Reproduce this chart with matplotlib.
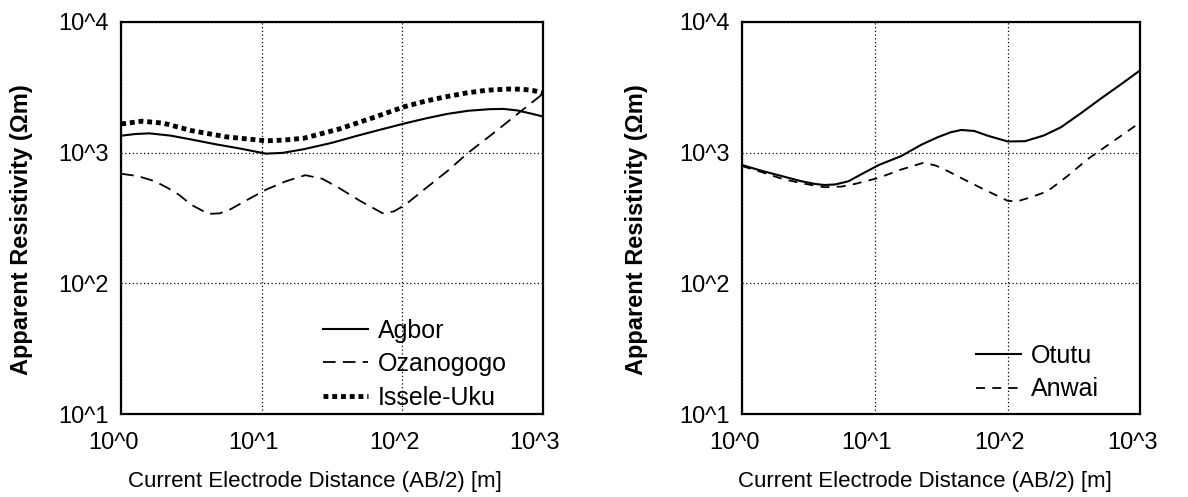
import numpy as np
import matplotlib
matplotlib.use('Agg')
import matplotlib.pyplot as plt
import matplotlib.transforms as mtransforms

plt.rcParams['font.family'] = ['Liberation Sans', 'DejaVu Sans']

# distancias AB/2 (m) y resistividades, leidas como log10
agbor_logx = [0, 0.1, 0.2, 0.35, 0.5, 0.67, 0.85, 1.03, 1.15, 1.3, 1.5, 1.68, 1.85, 2.02, 2.17, 2.32, 2.47, 2.62, 2.72, 2.82, 2.91, 3.0]
agbor_logy = [3.129, 3.142, 3.147, 3.13, 3.10, 3.064, 3.03, 2.992, 2.998, 3.026, 3.075, 3.129, 3.177, 3.224, 3.262, 3.296, 3.32, 3.332, 3.334, 3.322, 3.30, 3.276]

ozano_logx = [0, 0.12, 0.24, 0.33, 0.41, 0.5, 0.62, 0.7, 0.77, 0.9, 1.03, 1.17, 1.31, 1.43, 1.55, 1.7, 1.86, 1.94, 2.02, 2.17, 2.32, 2.47, 2.65, 2.82, 3.0]
ozano_logy = [2.838, 2.82, 2.78, 2.73, 2.678, 2.60, 2.531, 2.535, 2.562, 2.64, 2.716, 2.78, 2.827, 2.80, 2.729, 2.63, 2.536, 2.55, 2.60, 2.73, 2.858, 3.0, 3.15, 3.296, 3.45]

issele_logx = [0, 0.15, 0.3, 0.5, 0.75, 1.03, 1.15, 1.3, 1.55, 1.8, 2.02, 2.17, 2.3, 2.45, 2.6, 2.75, 2.85, 2.93, 3.0]
issele_logy = [3.219, 3.24, 3.225, 3.168, 3.12, 3.09, 3.095, 3.11, 3.18, 3.27, 3.353, 3.395, 3.425, 3.455, 3.477, 3.486, 3.485, 3.475, 3.456]

otutu_logx = [0, 0.15, 0.3, 0.45, 0.55, 0.62, 0.7, 0.8, 0.9, 1.03, 1.2, 1.35, 1.47, 1.57, 1.65, 1.75, 1.85, 2.0, 2.13, 2.27, 2.4, 2.55, 2.7, 2.85, 3.0]
otutu_logy = [2.905, 2.86, 2.82, 2.78, 2.76, 2.752, 2.756, 2.78, 2.835, 2.905, 2.974, 3.06, 3.116, 3.155, 3.173, 3.165, 3.129, 3.085, 3.087, 3.13, 3.193, 3.30, 3.412, 3.52, 3.631]

anwai_logx = [0, 0.15, 0.3, 0.45, 0.62, 0.75, 0.85, 1.03, 1.2, 1.37, 1.46, 1.55, 1.68, 1.8, 1.9, 2.0, 2.07, 2.18, 2.3, 2.45, 2.6, 2.8, 3.0]
anwai_logy = [2.897, 2.85, 2.80, 2.765, 2.735, 2.74, 2.76, 2.807, 2.871, 2.923, 2.90, 2.858, 2.79, 2.729, 2.68, 2.631, 2.626, 2.66, 2.704, 2.82, 2.948, 3.09, 3.232]

xticks = [1, 10, 100, 1000]
xticklabels = ['10^0', '10^1', '10^2', '10^3']
yticks = [10, 100, 1000, 10000]
yticklabels = ['10^1', '10^2', '10^3', '10^4']


def pot(v):
    return 10 ** np.array(v)


fig = plt.figure(figsize=(11.88, 4.97), dpi=100)
ax1 = fig.add_axes([0.102, 0.167, 0.355, 0.789])
ax2 = fig.add_axes([0.6246, 0.167, 0.3354, 0.789])

ax1.plot(pot(agbor_logx), pot(agbor_logy), color='black', lw=1.5, label='Agbor')
ax1.plot(pot(ozano_logx), pot(ozano_logy), color='black', lw=1.3, dashes=(7, 4), label='Ozanogogo')
ax1.plot(pot(issele_logx), pot(issele_logy), color='black', lw=3.5, dashes=(1, 0.8), label='Issele-Uku')

ax2.plot(pot(otutu_logx), pot(otutu_logy), color='black', lw=1.5, label='Otutu')
ax2.plot(pot(anwai_logx), pot(anwai_logy), color='black', lw=1.3, dashes=(5, 4), label='Anwai')

desplaza = mtransforms.ScaledTranslation(-8 / 100, 0, fig.dpi_scale_trans)

for ax in (ax1, ax2):
    ax.set_xscale('log')
    ax.set_yscale('log')
    ax.set_xlim(1, 1000)
    ax.set_ylim(10, 10000)
    ax.set_xticks(xticks)
    ax.set_xticklabels(xticklabels)
    ax.set_yticks(yticks)
    ax.set_yticklabels(yticklabels)
    ax.minorticks_off()
    ax.tick_params(length=0, labelsize=17)
    ax.tick_params(axis='x', pad=13)
    ax.tick_params(axis='y', pad=9)
    for lab in ax.get_xticklabels():
        lab.set_transform(lab.get_transform() + desplaza)
    ax.grid(True, which='major', color='black', linestyle=(0, (1, 2)), lw=0.9)
    for s in ax.spines.values():
        s.set_linewidth(1.6)
    ax.set_xlabel('Current Electrode Distance (AB/2) [m]', fontsize=16)
    ax.xaxis.set_label_coords(0.46, -0.145)
    ax.set_ylabel('Apparent Resistivity (\u03a9m)', fontsize=17, fontweight='bold')

ax1.yaxis.set_label_coords(-0.21, 0.47)
ax2.yaxis.set_label_coords(-0.235, 0.47)

ax1.legend(loc='lower right', bbox_to_anchor=(0.968, -0.046), frameon=False, fontsize=18,
           handlelength=1.8, handletextpad=0.4, labelspacing=0.38)
ax2.legend(loc='lower right', bbox_to_anchor=(0.953, -0.025), frameon=False, fontsize=18,
           handlelength=1.8, handletextpad=0.4, labelspacing=0.38)

fig.savefig('out.png', dpi=100)
